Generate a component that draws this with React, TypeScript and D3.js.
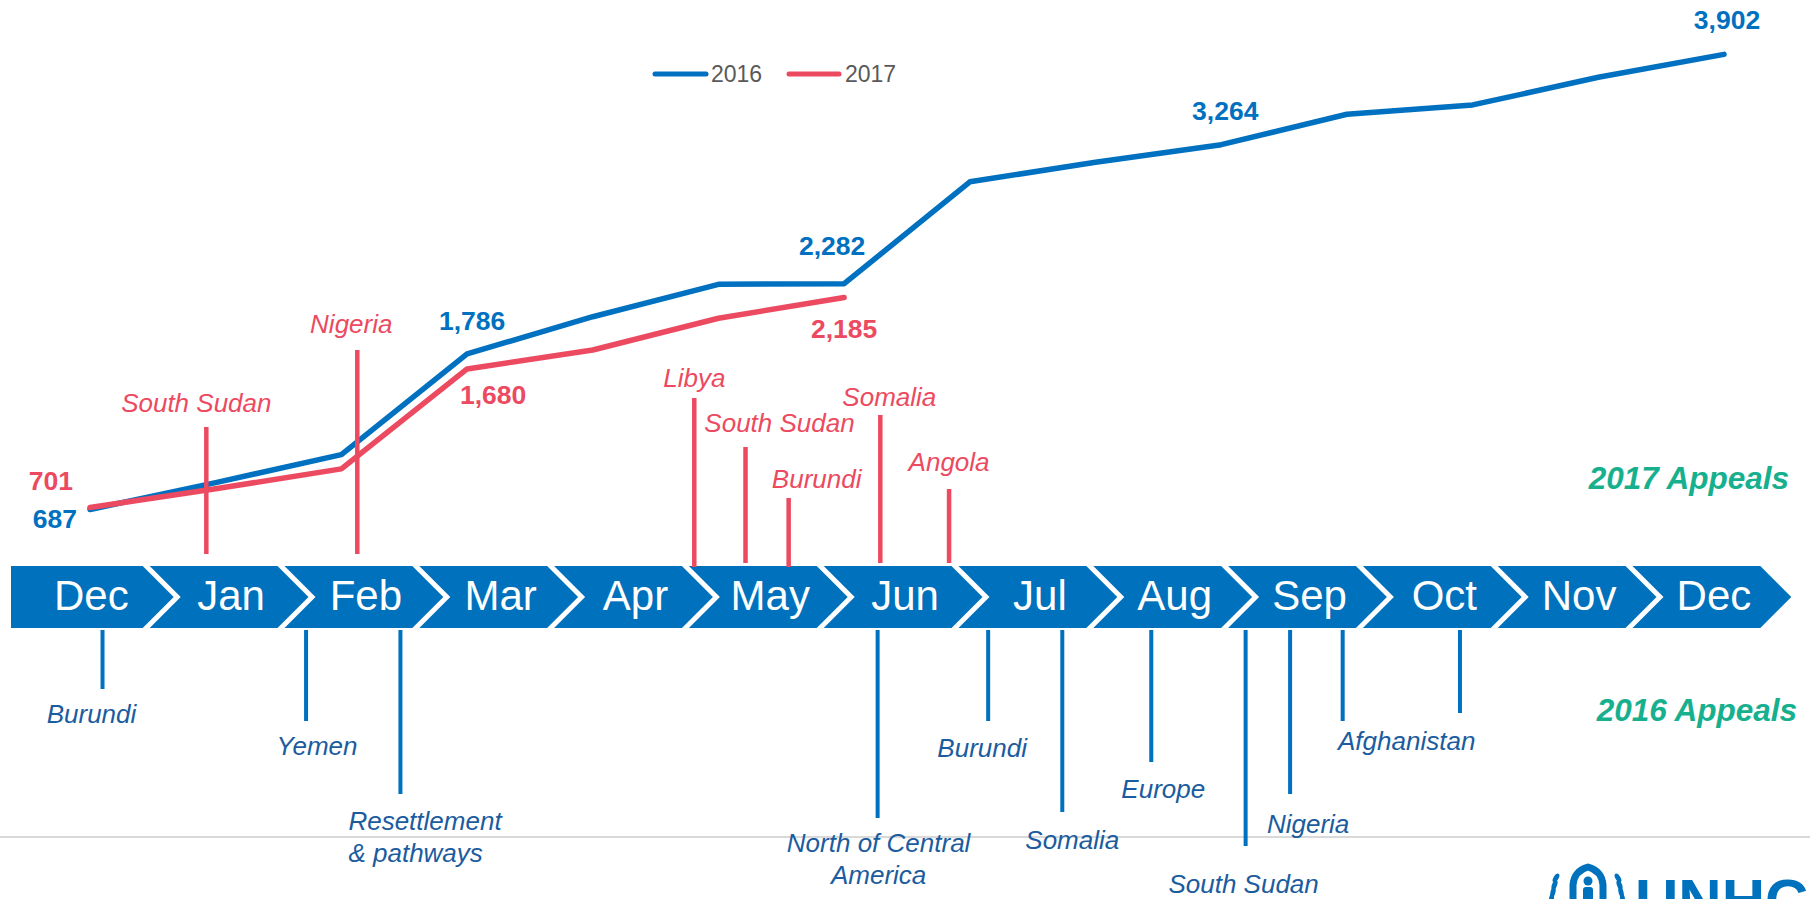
import React from "react";
import * as d3 from "d3";

// chart steps (months since Dec of the previous year)
const chartMonths = [0, 1, 2, 3, 4, 5, 6, 7, 8, 9, 10, 11, 12, 13];
const values2016 = [687, 877, 1075, 1786, 2049, 2278, 2282, 3002, 3140, 3264, 3479, 3545, 3740, 3902];
const values2017 = [701, 834, 974, 1680, 1814, 2038, 2185];

const bandMonths = ["Dec", "Jan", "Feb", "Mar", "Apr", "May", "Jun", "Jul", "Aug", "Sep", "Oct", "Nov", "Dec"];

// appeals: name and position on the timeline (in months from the first segment)
const appeals2017 = ["South Sudan", "Nigeria", "Libya", "South Sudan", "Burundi", "Somalia", "Angola"];
const appeals2017At = [1.42, 2.54, 5.04, 5.42, 5.74, 6.42, 6.93];
const appeals2016 = [
  "Burundi", "Yemen", "Resettlement|& pathways", "North of Central|America", "Burundi",
  "Somalia", "Europe", "South Sudan", "Nigeria", "Afghanistan", "",
];
const appeals2016At = [0.65, 2.16, 2.86, 6.4, 7.22, 7.77, 8.43, 9.13, 9.46, 9.85, 10.72];

// layout of the stems and their labels (pixels)
const stem2017Top = [427, 350, 398, 447, 498, 415, 489];
const stem2017Bottom = [554, 554, 567, 563, 567, 563, 563];
const label2017Dx = [-10, -6, 0, 34, 28, 9, 0];
const label2017Gap = [15, 17, 11, 15, 10, 9, 18];
const stem2016Bottom = [689, 721, 794, 818, 721, 812, 762, 846, 794, 721, 713];
const label2016Dx = [-11, 11, -52, 1, -6, 10, 12, -2, 18, 64, 0];
const label2016Gap = [34, 34, 36, 34, 36, 37, 36, 47, 39, 29, 0];
const label2016Anchor = ["middle", "middle", "start", "middle", "middle", "middle", "middle", "middle", "middle", "middle", "middle"];

// data labels: series, index, offset
const dataLabels = [
  { s: 2016, i: 0, dx: -13, dy: 18, anchor: "end" },
  { s: 2016, i: 3, dx: 5, dy: -24, anchor: "middle" },
  { s: 2016, i: 6, dx: -12, dy: -29, anchor: "middle" },
  { s: 2016, i: 9, dx: 4, dy: -25, anchor: "middle" },
  { s: 2016, i: 13, dx: 3, dy: -25, anchor: "middle" },
  { s: 2017, i: 0, dx: -17, dy: -18, anchor: "end" },
  { s: 2017, i: 3, dx: 26, dy: 35, anchor: "middle" },
  { s: 2017, i: 6, dx: 0, dy: 41, anchor: "middle" },
];

const BLUE = "#0070C0";
const BAND = "#0071BC";
const RED = "#EC4A60";
const DARK = "#1B5C9E";
const GREEN = "#17B08E";
const FONT = "'Liberation Sans', Arial, sans-serif";

const App = () => {
  const width = 1810;
  const height = 899;

  const x = d3.scalePoint<number>().domain(chartMonths).range([90, 1724]);
  const y = d3.scaleLinear().domain([0, 4000]).range([606.8, 40.5]);
  const bx = d3.scaleLinear().domain([0, 13]).range([14.9, 1767.3]);

  const bandTop = 566;
  const bandBottom = 628;
  const bandMid = (bandTop + bandBottom) / 2;
  const tip = 31;
  const gap = 7;

  const line = d3
    .line<number>()
    .x((d, i) => x(chartMonths[i]) as number)
    .y((d) => y(d));

  const fmt = d3.format(",");

  return (
    <div style={{ position: "absolute", left: 0, top: 0 }}>
      <svg width={width} height={height} style={{ display: "block", background: "#fff" }} fontFamily={FONT}>
        {/* footer rule */}
        <line x1={0} x2={width} y1={837} y2={837} stroke="#D9D9D9" strokeWidth={2} />

        {/* legend */}
        <g fontSize={23} fill="#595959">
          <line x1={655} x2={706} y1={74} y2={74} stroke={BLUE} strokeWidth={5} strokeLinecap="round" />
          <text x={711} y={82}>2016</text>
          <line x1={789} x2={839} y1={74} y2={74} stroke={RED} strokeWidth={5} strokeLinecap="round" />
          <text x={845} y={82}>2017</text>
        </g>

        {/* month band */}
        {bandMonths.map((m, i) => {
          const L = i === 0 ? 11 : bx(i);
          const R = bx(i + 1) - gap;
          const pts =
            i === 0
              ? [[L, bandTop], [R, bandTop], [R + tip, bandMid], [R, bandBottom], [L, bandBottom]]
              : [[L, bandTop], [R, bandTop], [R + tip, bandMid], [R, bandBottom], [L, bandBottom], [L + tip, bandMid]];
          const cx = (L + R + tip) / 2 + (i === 0 ? -1 : 2);
          return (
            <g key={i}>
              <polygon points={pts.map((p) => p.join(",")).join(" ")} fill={BAND} />
              <text x={cx} y={610} textAnchor="middle" fill="#fff" fontSize={42}>
                {m}
              </text>
            </g>
          );
        })}

        {/* series lines */}
        <path d={line(values2016) || ""} fill="none" stroke={BLUE} strokeWidth={5.5} strokeLinejoin="round" strokeLinecap="round" />
        <path d={line(values2017) || ""} fill="none" stroke={RED} strokeWidth={5.5} strokeLinejoin="round" strokeLinecap="round" />

        {/* data labels */}
        <g fontSize={26.5} fontWeight={700}>
          {dataLabels.map((l, k) => {
            const vals = l.s === 2016 ? values2016 : values2017;
            const px = x(chartMonths[l.i]) as number;
            const py = y(vals[l.i]);
            return (
              <text key={k} x={px + l.dx} y={py + l.dy} textAnchor={l.anchor} fill={l.s === 2016 ? BLUE : RED}>
                {fmt(vals[l.i])}
              </text>
            );
          })}
        </g>

        {/* 2017 appeals */}
        <g fontSize={26} fontStyle="italic" fill={RED}>
          {appeals2017.map((name, i) => {
            const ax = bx(appeals2017At[i]);
            return (
              <g key={i}>
                <line x1={ax} x2={ax} y1={stem2017Top[i]} y2={stem2017Bottom[i]} stroke={RED} strokeWidth={4.5} />
                <text x={ax + label2017Dx[i]} y={stem2017Top[i] - label2017Gap[i]} textAnchor="middle">
                  {name}
                </text>
              </g>
            );
          })}
        </g>

        {/* 2016 appeals */}
        <g fontSize={26} fontStyle="italic" fill={DARK}>
          {appeals2016.map((name, i) => {
            const ax = bx(appeals2016At[i]);
            const lines = name ? name.split("|") : [];
            return (
              <g key={i}>
                <line x1={ax} x2={ax} y1={630} y2={stem2016Bottom[i]} stroke={BLUE} strokeWidth={4} />
                {lines.map((t, j) => (
                  <text
                    key={j}
                    x={ax + label2016Dx[i]}
                    y={stem2016Bottom[i] + label2016Gap[i] + j * 31.5}
                    textAnchor={label2016Anchor[i]}
                  >
                    {t}
                  </text>
                ))}
              </g>
            );
          })}
        </g>

        {/* series captions */}
        <g fontSize={31.5} fontStyle="italic" fontWeight={700} fill={GREEN} textAnchor="end">
          <text x={1789} y={489}>2017 Appeals</text>
          <text x={1797} y={721}>2016 Appeals</text>
        </g>

        {/* UNHCR logo (cropped by the page edge, as in the source) */}
        <g fill={BAND}>
          <path
            d="M1573,899 L1573,885 Q1574,871 1588,867 Q1602,871 1603,885 L1603,899"
            fill="none"
            stroke={BAND}
            strokeWidth={7}
            strokeLinejoin="round"
          />
          <circle cx={1588} cy={881} r={4.5} />
          <rect x={1583} y={887} width={10} height={14} rx={3} />
          {[0, 1, 2, 3].map((k) => (
            <g key={k}>
              <ellipse cx={1556 - k * 1.5} cy={878 + k * 7} rx={2.5} ry={5} transform={`rotate(${30 - k * 8} ${1556 - k * 1.5} ${878 + k * 7})`} />
              <ellipse cx={1618 + k * 1.5} cy={878 + k * 7} rx={2.5} ry={5} transform={`rotate(${-30 + k * 8} ${1618 + k * 1.5} ${878 + k * 7})`} />
            </g>
          ))}
          <text x={1635} y={921} fontSize={60} fontWeight={700}>
            UNHCR
          </text>
        </g>
      </svg>
    </div>
  );
};

export default App;
